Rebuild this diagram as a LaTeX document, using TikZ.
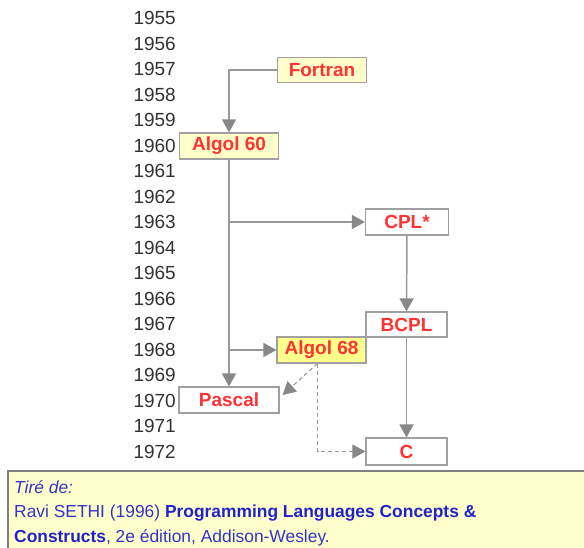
\documentclass[tikz,border=0pt]{standalone}
\usepackage{fontspec}
\setmainfont{Liberation Sans}
\usetikzlibrary{arrows.meta}

\definecolor{linegray}{HTML}{999999}
\definecolor{tipgray}{HTML}{888888}
\definecolor{boxgray}{HTML}{A0A0A0}
\definecolor{paleyellow}{HTML}{FFFFCC}
\definecolor{brightyellow}{HTML}{FFFF8C}
\definecolor{langred}{HTML}{FF3333}
\definecolor{yeargray}{HTML}{333333}
\definecolor{refblue}{HTML}{3333CC}
\definecolor{refboldblue}{HTML}{2222CC}

\tikzset{
  lang/.style={draw=boxgray, line width=1.2pt, fill=white, text=langred,
    inner sep=0pt, font=\fontsize{19}{21}\selectfont\bfseries},
  langold/.style={lang, fill=paleyellow},
  langhot/.style={lang, fill=brightyellow},
  year/.style={anchor=east, text=yeargray, inner sep=0pt,
    font=\fontsize{19}{21}\selectfont},
  link/.style={draw=linegray, line width=1.5pt,
    -{Triangle[length=13pt,width=14pt,color=tipgray]}},
  weaklink/.style={link, line width=1.1pt, dash pattern=on 4pt off 3pt},
  ref/.style={anchor=base west, inner sep=0pt, text=refblue,
    font=\fontsize{17.4}{20}\selectfont},
}

\begin{document}
\begin{tikzpicture}[x=1pt,y=-1pt]
  \useasboundingbox (0,0) rectangle (584,548);
  \fill[white] (0,0) rectangle (584,548);

  % year scale
  \foreach \yr [count=\i from 0] in {1955,...,1972}
    \node[year] (y\yr) at (176,{18+25.5*\i}) {\yr};

  % languages
  \node[langold, minimum width=89pt, minimum height=25pt] (fortran) at (322,70) {Fortran};
  \node[langold, minimum width=99pt, minimum height=26pt] (algol60) at (229,146) {Algol 60};
  \node[lang, minimum width=83pt, minimum height=26pt] (cpl) at (407,222) {CPL*};
  \node[lang, minimum width=81pt, minimum height=25pt] (bcpl) at (406.5,324.5) {BCPL};
  \node[langhot, minimum width=89pt, minimum height=26pt] (algol68) at (321.5,350) {Algol 68};
  \node[lang, minimum width=100pt, minimum height=26pt] (pascal) at (229,400) {Pascal};
  \node[lang, minimum width=81pt, minimum height=27pt] (c) at (406.5,451.5) {C};

  % influences
  \draw[link] (fortran.west) -| (algol60.north);
  \draw[link] (algol60.south) -- (pascal.north);
  \coordinate (j63) at (algol60.south |- cpl.west);
  \coordinate (j68) at (algol60.south |- algol68.west);
  \draw[link] (j63) -- (cpl.west);
  \draw[link] (j68) -- (algol68.west);
  \draw[link] (cpl.south) -- (bcpl.north);
  \draw[link] (bcpl.south) -- (c.north);

  % weaker influences of Algol 68
  \coordinate (d0) at ([xshift=-4pt]algol68.south);
  \coordinate (pin) at ([xshift=3pt,yshift=5pt]pascal.east);
  \draw[weaklink] (d0) -- (pin);
  \draw[weaklink] (d0) |- (c.west);

  % source
  \draw[draw=gray, fill=paleyellow, line width=1.2pt] (8,471) rectangle (590,553);
  \node[ref] (src1) at (14,493) {\itshape Tiré de:};
  \node[ref] (src2) at (14,517.5) {Ravi SETHI (1996) {\color{refboldblue}\bfseries Programming Languages Concepts \&}};
  \node[ref] (src3) at (14,542) {{\color{refboldblue}\bfseries Constructs}, 2e édition, Addison-Wesley.};
\end{tikzpicture}
\end{document}
